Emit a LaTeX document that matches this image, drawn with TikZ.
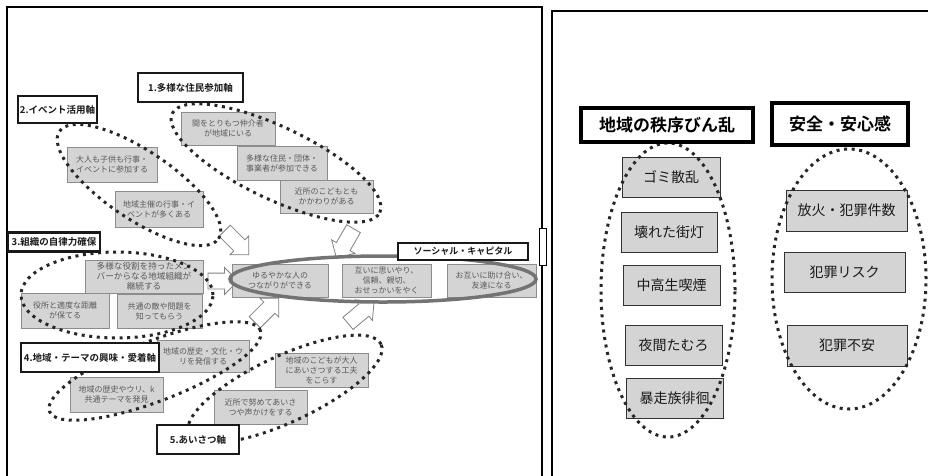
\documentclass[tikz,border=0pt]{standalone}
\usepackage{fontspec}
\setmainfont{Noto Sans CJK JP}[BoldFont={Noto Sans CJK JP Bold}]
\usetikzlibrary{shapes.arrows}
\tikzset{
 gbox/.style={draw=black!45, fill=black!17, line width=0.7pt, text=black!65, font=\fontsize{8}{10}\selectfont, align=center, inner sep=0pt},
 lhead/.style={draw=black!90, fill=white, line width=2.6pt, font=\bfseries\fontsize{9.5}{11}\selectfont, inner sep=0pt, text=black!90},
 rbox/.style={draw=black!80, fill=black!17, line width=1pt, font=\fontsize{14}{16}\selectfont, text=black!90, inner sep=0pt},
 rhead/.style={draw=black, fill=white, line width=4.5pt, font=\bfseries\fontsize{17}{19}\selectfont, inner sep=0pt},
 dotline/.style={draw=black!85, line width=3pt, dash pattern=on 3pt off 4.6pt},
 barrow/.style={single arrow, draw=black!50, fill=white, line width=0.8pt, minimum height=34pt, inner xsep=0pt, inner ysep=7.5pt, single arrow head extend=5.5pt},
 sz/.style 2 args={minimum width=#1pt, minimum height=#2pt},
 frame/.style={draw=black, line width=2.6pt}
}
\begin{document}
\begin{tikzpicture}[x=1pt,y=-1pt]
\useasboundingbox (0,0) rectangle (928,475);
% panel frames
\coordinate (L1) at (7,480); \coordinate (L2) at (7,7); \coordinate (L3) at (542,7); \coordinate (L4) at (542,480);
\draw[frame] (L1) -- (L2) -- (L3) -- (L4);
\coordinate (R1) at (552,480); \coordinate (R2) at (552,11); \coordinate (R3) at (935,11);
\draw[frame] (R1) -- (R2) -- (R3);
\node[draw=black, fill=white, line width=0.8pt, sz={7}{37}, inner sep=0pt] (tab) at (542.5,246.5) {};

% block arrows
\node[barrow, rotate=-45] (a1) at (234,240) {};
\node[barrow, rotate=-120] (a2) at (347,240) {};
\node[barrow, minimum height=30pt] (a3) at (219,281) {};
\node[barrow, rotate=45] (a4) at (264,313) {};
\node[barrow, rotate=40] (a5) at (358,315) {};

% group 1
\node[gbox, sz={94}{33}] (n11) at (228,128.5) {間をとりもつ仲介者\\が地域にいる};
\node[gbox, sz={90}{34}] (n12) at (282,163) {多様な住民・団体・\\事業者が参加できる};
\node[gbox, sz={93}{33}] (n13) at (326.5,196.5) {近所のこどもとも\\かかわりがある};
% group 2
\node[gbox, sz={90}{35}] (n21) at (112,164.5) {大人も子供も行事・\\イベントに参加する};
\node[gbox, sz={88}{36}] (n22) at (159,209) {地域主催の行事・イ\\ベントが多くある};
% group 3
\node[gbox, sz={118}{33}, font=\fontsize{8.6}{10}\selectfont] (n31) at (144,276.5) {多様な役割を持ったメン\\バーからなる地域組織が\\継続する};
\node[gbox, sz={88}{35}] (n32) at (65,310.5) {役所と適度な距離\\が保てる};
\node[gbox, sz={85}{34}] (n33) at (159.5,311) {共通の敵や問題を\\知ってもらう};
% group 4
\node[gbox, sz={92}{32}] (n41) at (203,356) {地域の歴史・文化・ウ\\リを発信する};
\node[gbox, sz={93}{35}] (n42) at (116.5,394.5) {地域の歴史やウリ、k\\共通テーマを発見};
% group 5
\node[gbox, sz={93}{34}] (n51) at (321.5,370) {地域のこどもが大人\\にあいさつする工夫\\をこらす};
\node[gbox, sz={93}{34}] (n52) at (260.5,407) {近所で努めてあいさ\\つや声かけをする};
% social capital
\node[gbox, sz={96}{33}] (s1) at (280,280.5) {ゆるやかな人の\\つながりができる};
\node[gbox, sz={89}{33}] (s2) at (386.5,280.5) {互いに思いやり、\\信頼、親切、\\おせっかいをやく};
\node[gbox, sz={89}{33}] (s3) at (491.5,280.5) {お互いに助け合い、\\友達になる};

% dotted groups
\draw[dotline, rotate around={-25.5:(276,163)}] (276,163) ellipse [x radius=115pt, y radius=36pt];
\draw[dotline, rotate around={-34:(139,185)}] (139,185) ellipse [x radius=96pt, y radius=34pt];
\draw[dotline] (117,295) ellipse [x radius=96pt, y radius=43pt];
\draw[dotline, rotate around={21:(155,371)}] (155,371) ellipse [x radius=113pt, y radius=30pt];
\draw[dotline, rotate around={25:(285,389)}] (285,389) ellipse [x radius=106pt, y radius=33pt];
% social capital ellipse
\draw[draw=black!55, line width=3.5pt] (383,279) ellipse [x radius=153pt, y radius=23pt];

% left headers
\node[lhead, sz={105}{29}] (h1) at (190.5,87.5) {1.多様な住民参加軸};
\node[lhead, sz={79}{27}] (h2) at (57.5,109.5) {2.イベント活用軸};
\node[lhead, sz={92}{19}] (h3) at (54,242) {3.組織の自律力確保};
\node[lhead, sz={138}{29}] (h4) at (90,357.5) {4.地域・テーマの興味・愛着軸};
\node[lhead, sz={82}{29}] (h5) at (198,439.5) {5.あいさつ軸};
\node[lhead, sz={130}{17}, font=\bfseries\fontsize{9}{10}\selectfont] (hs) at (463,251.5) {ソーシャル・キャピタル};

% right panel boxes
\node[rbox, sz={98}{40}] (r1) at (671,177) {ゴミ散乱};
\node[rbox, sz={96}{40}] (r2) at (669,232) {壊れた街灯};
\node[rbox, sz={97}{40}] (r3) at (671.5,285) {中高生喫煙};
\node[rbox, sz={97}{40}] (r4) at (673.5,345) {夜間たむろ};
\node[rbox, sz={97}{40}] (r5) at (674.5,398) {暴走族徘徊};
\node[rbox, sz={121}{41}] (q1) at (846.5,210.5) {放火・犯罪件数};
\node[rbox, sz={121}{40}] (q2) at (844.5,272) {犯罪リスク};
\node[rbox, sz={120}{41}] (q3) at (847,345.5) {犯罪不安};
% right ellipses
\draw[dotline] (668,290) ellipse [x radius=67pt, y radius=147pt];
\draw[dotline] (849,279) ellipse [x radius=77pt, y radius=130pt];
% right headers
\node[rhead, sz={172}{34}] (rh1) at (667,125) {地域の秩序びん乱};
\node[rhead, sz={136}{42}] (rh2) at (840,124) {安全・安心感};
\end{tikzpicture}
\end{document}
